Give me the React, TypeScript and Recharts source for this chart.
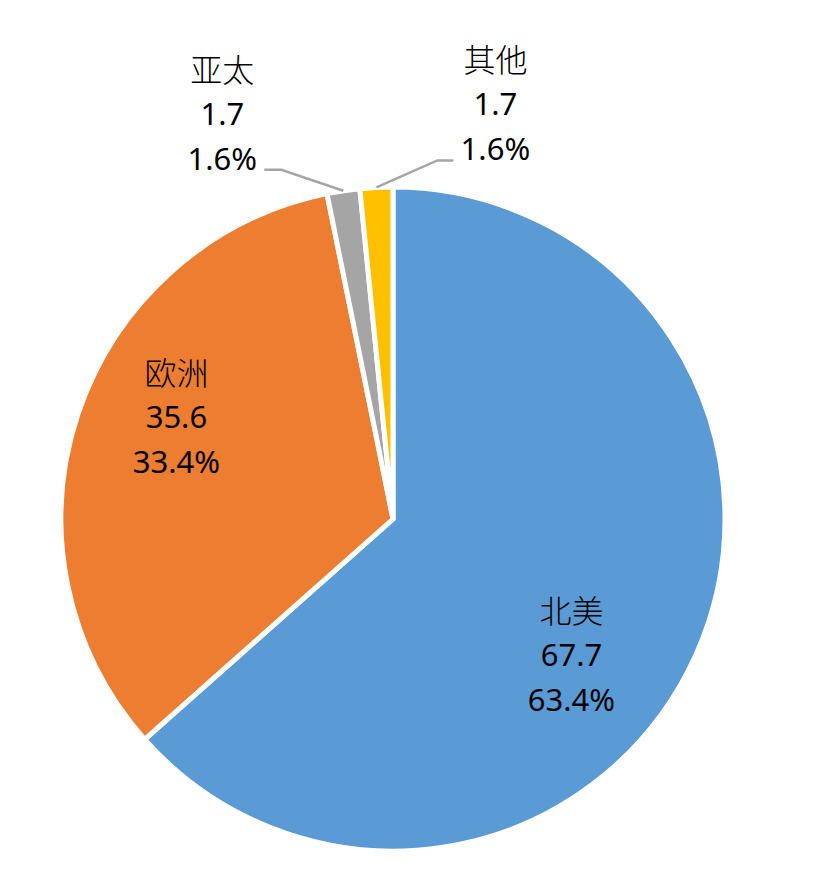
import React from 'react';
import { PieChart, Pie, Cell } from 'recharts';

// 地区分布 (单位与原图一致)
const regions = ['北美', '欧洲', '亚太', '其他'];
const values = [67.7, 35.6, 1.7, 1.7];
const colors = ['#5B9BD5', '#ED7D31', '#A5A5A5', '#FFC000'];

const total = values.reduce((s, v) => s + v, 0);
const data = regions.map((name, i) => ({ name, value: values[i] }));

// label placement: inside labels are nudged off the mid angle the way Excel does,
// small slices get an elbow leader line
const labelPlacement = [
  { inside: true, angleShift: -12.9, radiusRatio: 0.674 },
  { inside: true, angleShift: -6.9, radiusRatio: 0.722 },
  { inside: false, elbowDx: -62, elbowDy: -21, run: -17 },
  { inside: false, elbowDx: 61, elbowDy: -27, run: 16 },
];

const RAD = Math.PI / 180;
const LINE_GAP = 45;
const NUM_FONT = "'Noto Sans', 'Noto Sans CJK SC', sans-serif";
const CJK_FONT = "'Noto Sans CJK SC', sans-serif";

function LabelBlock({ x, y, name, value }: { x: number; y: number; name: string; value: number }) {
  const pct = ((value / total) * 100).toFixed(1) + '%';
  return (
    <g>
      <text x={x} y={y - LINE_GAP} textAnchor="middle" dominantBaseline="central" fontSize={32} fontWeight={300} fontFamily={CJK_FONT} fill="#000">
        {name}
      </text>
      <text x={x} y={y} textAnchor="middle" dominantBaseline="central" fontSize={31} fontFamily={NUM_FONT} fill="#000">
        {value.toFixed(1)}
      </text>
      <text x={x} y={y + LINE_GAP} textAnchor="middle" dominantBaseline="central" fontSize={31} fontFamily={NUM_FONT} fill="#000">
        {pct}
      </text>
    </g>
  );
}

const renderLabel = (props: any) => {
  const { cx, cy, midAngle, outerRadius, index, name, value } = props;
  const p: any = labelPlacement[index];
  if (p.inside) {
    const a = (midAngle + p.angleShift) * RAD;
    const r = outerRadius * p.radiusRatio;
    const x = cx + r * Math.cos(a);
    const y = cy - r * Math.sin(a);
    return <LabelBlock key={`l-${index}`} x={x} y={y} name={name} value={value} />;
  }
  const a = midAngle * RAD;
  const sx = cx + outerRadius * Math.cos(a);
  const sy = cy - outerRadius * Math.sin(a);
  const ex = sx + p.elbowDx;
  const ey = sy + p.elbowDy;
  const tx = ex + p.run;
  const dir = p.run < 0 ? -1 : 1;
  const textX = tx + dir * 42;
  return (
    <g key={`l-${index}`}>
      <polyline
        points={`${sx},${sy} ${ex},${ey} ${tx},${ey}`}
        fill="none"
        stroke="#A6A6A6"
        strokeWidth={2.5}
      />
      <LabelBlock x={textX} y={ey - 12 - LINE_GAP} name={name} value={value} />
    </g>
  );
};

export default function App() {
  return (
    <div style={{ width: 831, height: 865, background: '#fff' }}>
      <PieChart width={831} height={865} margin={{ top: 0, right: 0, bottom: 0, left: 0 }}>
        <Pie
          data={data}
          dataKey="value"
          nameKey="name"
          cx={385}
          cy={511}
          outerRadius={332}
          startAngle={90}
          endAngle={-270}
          stroke="#FFFFFF"
          strokeWidth={5}
          label={renderLabel}
          labelLine={false}
          isAnimationActive={false}
        >
          {data.map((d, i) => (
            <Cell key={d.name} fill={colors[i]} />
          ))}
        </Pie>
      </PieChart>
    </div>
  );
}
